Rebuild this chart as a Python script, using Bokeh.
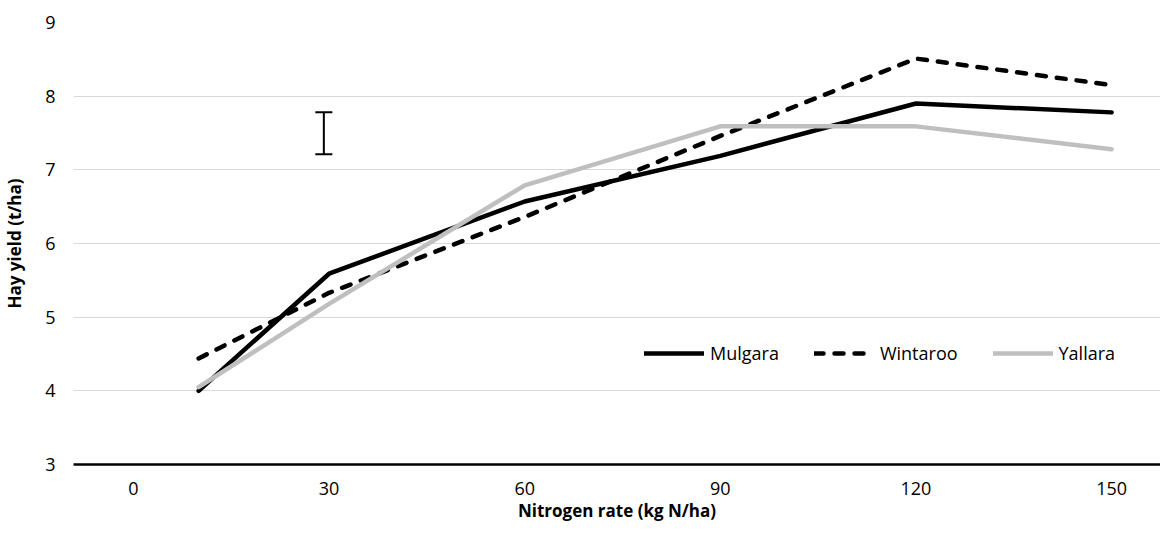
from bokeh.plotting import figure
from bokeh.models import (Range1d, FixedTicker, Legend, LegendItem, ColumnDataSource,
                          Whisker, TeeHead)
from bokeh.embed import file_html
from bokeh.resources import INLINE

# ---- data ----
nitrogen = [10, 30, 60, 90, 120, 150]
mulgara = [4.00, 5.59, 6.57, 7.19, 7.90, 7.78]
wintaroo = [4.44, 5.33, 6.36, 7.46, 8.51, 8.15]
yallara = [4.05, 5.18, 6.79, 7.59, 7.59, 7.28]
x_ticks = [0, 30, 60, 90, 120, 150]
y_ticks = [3, 4, 5, 6, 7, 8, 9]
lsd_x = [29.2]
lsd_lower = [7.21]
lsd_upper = [7.78]
x_title = "Nitrogen rate (kg N/ha)"
y_title = "Hay yield (t/ha)"

FONT = "Open Sans"

p = figure(width=1160, height=524, output_backend="svg", toolbar_location=None,
           x_range=Range1d(-9.19, 157.5), y_range=Range1d(3, 9),
           min_border_left=72, min_border_right=0, min_border_top=22, min_border_bottom=60)
p.outline_line_color = None
p.background_fill_color = "white"
p.border_fill_color = "white"

# grid
p.xgrid.grid_line_color = None
p.ygrid.ticker = FixedTicker(ticks=y_ticks)
p.ygrid.grid_line_color = "#d9d9d9"
p.ygrid.grid_line_width = 1

# x axis
p.xaxis.ticker = FixedTicker(ticks=x_ticks)
p.xaxis.axis_line_color = "black"
p.xaxis.axis_line_width = 2.5
p.xaxis.major_tick_line_color = None
p.xaxis.minor_tick_line_color = None
p.xaxis.major_label_text_font = FONT
p.xaxis.major_label_text_font_size = "18px"
p.xaxis.major_label_text_color = "black"
p.xaxis.major_label_standoff = 11
p.xaxis.axis_label = x_title
p.xaxis.axis_label_text_font = FONT
p.xaxis.axis_label_text_font_size = "17px"
p.xaxis.axis_label_text_font_style = "bold"
p.xaxis.axis_label_text_color = "black"
p.xaxis.axis_label_standoff = 1

# y axis
p.yaxis.ticker = FixedTicker(ticks=y_ticks)
p.yaxis.axis_line_color = None
p.yaxis.major_tick_line_color = None
p.yaxis.minor_tick_line_color = None
p.yaxis.major_label_text_font = FONT
p.yaxis.major_label_text_font_size = "18px"
p.yaxis.major_label_text_color = "black"
p.yaxis.major_label_standoff = 12
p.yaxis.axis_label = y_title
p.yaxis.axis_label_text_font = FONT
p.yaxis.axis_label_text_font_size = "17px"
p.yaxis.axis_label_text_font_style = "bold"
p.yaxis.axis_label_text_color = "black"
p.yaxis.axis_label_standoff = 16

# lines
r_m = p.line(nitrogen, mulgara, line_color="black", line_width=4.5, line_join="round", line_cap="round")
r_w = p.line(nitrogen, wintaroo, line_color="black", line_width=4.5, line_dash="9 11",
             line_join="round", line_cap="round")
r_y = p.line(nitrogen, yallara, line_color="#bfbfbf", line_width=4.5, line_join="round", line_cap="round")

# LSD error bar
src = ColumnDataSource(dict(base=lsd_x, lower=lsd_lower, upper=lsd_upper))
wh = Whisker(source=src, base="base", lower="lower", upper="upper", dimension="height",
             line_color="black", line_width=2,
             upper_head=TeeHead(size=17, line_color="black", line_width=2),
             lower_head=TeeHead(size=17, line_color="black", line_width=2))
p.add_layout(wh)

legend = Legend(items=[LegendItem(label="Mulgara", renderers=[r_m]),
                       LegendItem(label="Wintaroo", renderers=[r_w]),
                       LegendItem(label="Yallara", renderers=[r_y])],
                orientation="horizontal", location=(571, 99),
                glyph_width=60, glyph_height=20, label_standoff=6, spacing=35,
                padding=0, margin=0, border_line_alpha=0, background_fill_alpha=0,
                label_text_font=FONT, label_text_font_size="18px", label_text_color="black")
p.add_layout(legend)

open("out.html", "w").write(file_html(p, INLINE))
